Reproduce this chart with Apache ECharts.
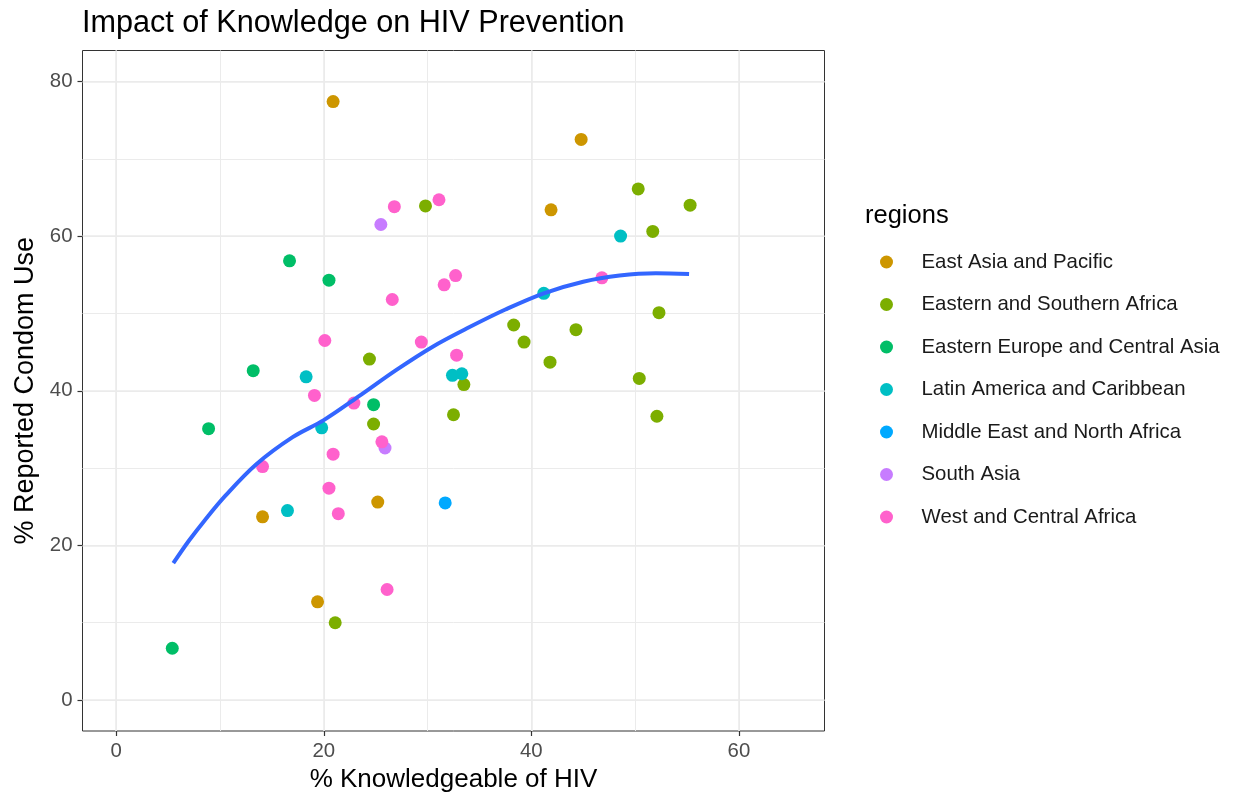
<!DOCTYPE html>
<html>
<head>
<meta charset="utf-8">
<title>Impact of Knowledge on HIV Prevention</title>
<script src="https://cdn.jsdelivr.net/npm/echarts@6/dist/echarts.min.js"></script>
<style>
html, body { margin: 0; padding: 0; background: #fff; }
#main { width: 1235px; height: 798px; }
</style>
</head>
<body>
<div id="main"></div>
<script>
// legend order + ggplot hue colours
var regions = ['East Asia and Pacific', 'Eastern and Southern Africa', 'Eastern Europe and Central Asia',
  'Latin America and Caribbean', 'Middle East and North Africa', 'South Asia', 'West and Central Africa'];
var regionColors = ['#CD9600', '#7CAE00', '#00BE67', '#00BFC4', '#00A9FF', '#C77CFF', '#FF61CC'];

// East Asia and Pacific
var eapX = [20.9, 44.8, 41.9, 25.2, 14.1, 19.4];
var eapY = [77.4, 72.5, 63.4, 25.6, 23.7, 12.7];
// Eastern and Southern Africa
var esaX = [29.8, 50.3, 55.3, 51.7, 38.3, 39.3, 44.3, 52.3, 41.8, 33.5, 50.4, 32.5, 52.1, 24.4, 24.8, 21.1];
var esaY = [63.9, 66.1, 64.0, 60.6, 48.5, 46.3, 47.9, 50.1, 43.7, 40.8, 41.6, 36.9, 36.7, 44.1, 35.7, 10.0];
// Eastern Europe and Central Asia
var eecaX = [16.7, 20.5, 13.2, 24.8, 8.9, 5.4];
var eecaY = [56.8, 54.3, 42.6, 38.2, 35.1, 6.7];
// Latin America and Caribbean
var lacX = [48.6, 41.2, 32.4, 33.3, 18.3, 19.8, 16.5];
var lacY = [60.0, 52.6, 42.0, 42.2, 41.8, 35.2, 24.5];
// Middle East and North Africa
var menaX = [31.7];
var menaY = [25.5];
// South Asia
var saX = [25.5, 25.9];
var saY = [61.5, 32.6];
// West and Central Africa
var wcaX = [26.8, 31.1, 26.6, 20.1, 29.4, 32.7, 31.6, 46.8, 32.8, 19.1, 22.9, 25.6, 20.9, 14.1, 20.5, 21.4, 26.1];
var wcaY = [63.8, 64.7, 51.8, 46.5, 46.3, 54.9, 53.7, 54.6, 44.6, 39.4, 38.4, 33.4, 31.8, 30.2, 27.4, 24.1, 14.3];

// smoother curve
var smoothX = [5.5, 7, 8.5, 10.5, 13.5, 17, 20, 23.5, 27, 30.5, 34, 37.5, 41.2, 45, 48.5, 52, 55.2];
var smoothY = [17.7, 20.6, 23.2, 26.4, 30.5, 34.0, 36.2, 39.4, 42.7, 45.7, 48.2, 50.5, 52.6, 54.1, 54.9, 55.2, 55.1];

// labelled ticks and all grid lines
var xTicks = [0, 20, 40, 60];
var yTicks = [0, 20, 40, 60, 80];
var xGrid = [0, 10, 20, 30, 40, 50, 60];
var yGrid = [0, 10, 20, 30, 40, 50, 60, 70, 80];

var font = '"Liberation Sans", Arial, Helvetica, sans-serif';

function zip(xs, ys) {
  var out = [];
  for (var i = 0; i < xs.length; i++) out.push([xs[i], ys[i]]);
  return out;
}

var regionData = [zip(eapX, eapY), zip(esaX, esaY), zip(eecaX, eecaY), zip(lacX, lacY),
  zip(menaX, menaY), zip(saX, saY), zip(wcaX, wcaY)];

var series = [];
for (var r = 0; r < regions.length; r++) {
  series.push({
    name: regions[r],
    type: 'scatter',
    xAxisIndex: 0,
    yAxisIndex: 0,
    symbolSize: 13,
    itemStyle: { color: regionColors[r], opacity: 1 },
    data: regionData[r],
    z: 3
  });
}
series.push({
  name: 'loess',
  type: 'line',
  xAxisIndex: 0,
  yAxisIndex: 0,
  showSymbol: false,
  smooth: 0.35,
  lineStyle: { color: '#3366FF', width: 4 },
  data: zip(smoothX, smoothY),
  z: 4
});

var myChart = echarts.init(document.getElementById('main'));
var option = {
  animation: false,
  backgroundColor: '#ffffff',
  textStyle: { fontFamily: font },
  title: [
    {
      text: 'Impact of Knowledge on HIV Prevention',
      left: 77, top: 3,
      textStyle: { fontSize: 30.6, fontWeight: 'normal', color: '#000', fontFamily: font }
    },
    {
      text: 'regions',
      left: 860, top: 198,
      textStyle: { fontSize: 25.5, fontWeight: 'normal', color: '#000', fontFamily: font }
    }
  ],
  legend: {
    orient: 'vertical',
    left: 880, top: 252,
    padding: 0,
    itemWidth: 60, itemHeight: 13, itemGap: 22.5,
    icon: 'circle',
    selectedMode: false,
    textStyle: { fontSize: 20.4, lineHeight: 20, color: '#1a1a1a', fontFamily: font },
    data: regions
  },
  grid: {
    left: 82.5, top: 50.5, width: 742, height: 681,
    show: true, borderColor: '#333333', borderWidth: 1,
    backgroundColor: 'transparent'
  },
  xAxis: [
    {
      // minor grid lines
      type: 'value', min: -3.25, max: 68.25,
      axisLine: { show: false, onZero: false },
      axisTick: { show: false, customValues: xGrid },
      axisLabel: { show: false, customValues: xGrid },
      splitLine: { show: true, lineStyle: { color: '#ebebeb', width: 1 } }
    },
    {
      type: 'value', position: 'bottom', min: -3.25, max: 68.25,
      axisLine: { show: false, onZero: false },
      axisTick: { show: true, length: 5, customValues: xTicks, lineStyle: { color: '#333333', width: 1.2 } },
      axisLabel: { show: true, margin: 10, customValues: xTicks,
        color: '#4d4d4d', fontSize: 20.4, fontFamily: font },
      splitLine: { show: true, lineStyle: { color: '#ebebeb', width: 1.6 } },
      name: '% Knowledgeable of HIV', nameLocation: 'middle', nameGap: 36,
      nameTextStyle: { fontSize: 26, color: '#000', fontFamily: font }
    }
  ],
  yAxis: [
    {
      type: 'value', min: -4, max: 84,
      axisLine: { show: false, onZero: false },
      axisTick: { show: false, customValues: yGrid },
      axisLabel: { show: false, customValues: yGrid },
      splitLine: { show: true, lineStyle: { color: '#ebebeb', width: 1 } }
    },
    {
      type: 'value', position: 'left', min: -4, max: 84,
      axisLine: { show: false, onZero: false },
      axisTick: { show: true, length: 5, customValues: yTicks, lineStyle: { color: '#333333', width: 1.2 } },
      axisLabel: { show: true, margin: 10, customValues: yTicks,
        color: '#4d4d4d', fontSize: 20.4, fontFamily: font },
      splitLine: { show: true, lineStyle: { color: '#ebebeb', width: 1.6 } },
      name: '% Reported Condom Use', nameLocation: 'middle', nameGap: 38,
      nameTextStyle: { fontSize: 27, color: '#000', fontFamily: font }
    }
  ],
  series: series
};
myChart.setOption(option);
</script>
</body>
</html>
